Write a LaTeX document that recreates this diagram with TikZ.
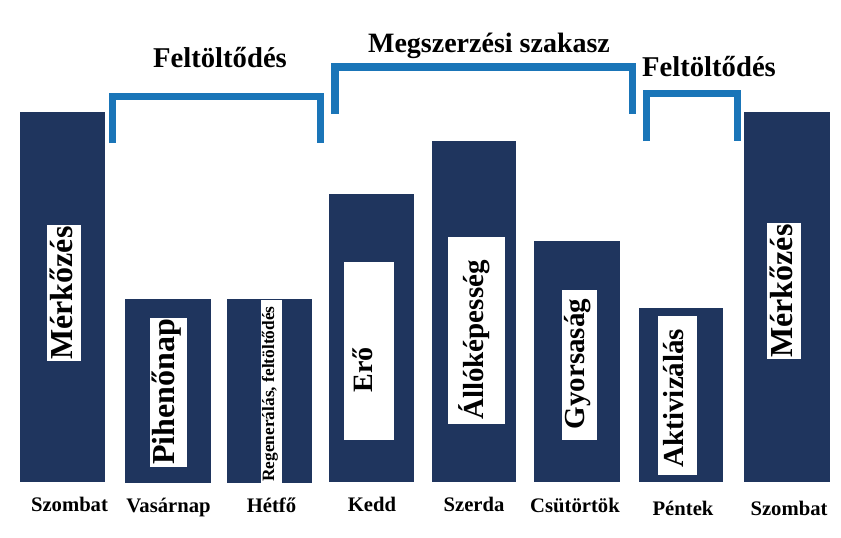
\documentclass[tikz,border=0pt]{standalone}
\usepackage{fontspec}
\setmainfont{Liberation Serif}
\definecolor{navy}{HTML}{1F355E}
\definecolor{brblue}{HTML}{1A75B8}
\begin{document}
\begin{tikzpicture}[x=0.75pt,y=-0.75pt,
  bar/.style={fill=navy},
  wbox/.style={fill=white},
  brk/.style={draw=brblue,line width=5.6pt,line join=miter,line cap=butt},
  title/.style={inner sep=0pt,anchor=base,font=\bfseries\fontsize{21.5pt}{24pt}\selectfont},
  day/.style={inner sep=0pt,anchor=base,font=\bfseries\fontsize{15.5pt}{17pt}\selectfont},
  vlbl/.style={inner sep=0pt,anchor=base,rotate=90,font=\bfseries\fontsize{#1}{#1}\selectfont},
  vlbl/.default=24pt]
\fill[white] (0,0) rectangle (841,537);
\useasboundingbox (0,0) rectangle (841,537);
% bars
\fill[bar] (20,112) rectangle (105,482);
\fill[bar] (125,299) rectangle (211,483);
\fill[bar] (227,299) rectangle (312,483);
\fill[bar] (329,194) rectangle (414,482);
\fill[bar] (432,141) rectangle (516,482);
\fill[bar] (534,241) rectangle (620,482);
\fill[bar] (639,308) rectangle (723,482);
\fill[bar] (744,112) rectangle (830,482);
% white label boxes
\fill[wbox] (47,225) rectangle (81,361);
\fill[wbox] (150,318) rectangle (187,467);
\fill[wbox] (261,300) rectangle (282,483);
\fill[wbox] (344,262) rectangle (394,440);
\fill[wbox] (448,237) rectangle (505,424);
\fill[wbox] (562,290) rectangle (597,440);
\fill[wbox] (658,316) rectangle (697,475);
\fill[wbox] (767,223) rectangle (801,359);
% vertical labels
\node[vlbl] (m1) at (72,293) {Mérkőzés};
\node[vlbl] (pih) at (174,392) {Pihenőnap};
\node[vlbl=13pt] (reg) at (274,394) {Regenerálás, feltöltődés};
\node[vlbl=21pt] (ero) at (372,370) {Erő};
\node[vlbl=21.75pt] (allo) at (483,340) {Állóképesség};
\node[vlbl=21.75pt] (gyors) at (584,364) {Gyorsaság};
\node[vlbl=21.75pt] (akt) at (683,398) {Aktivizálás};
\node[vlbl] (m2) at (792,291) {Mérkőzés};
% brackets
\draw[brk] (112.3,143) -- (112.3,96.5) -- (320.5,96.5) -- (320.5,143);
\draw[brk] (335,114) -- (335,67) -- (632.5,67) -- (632.5,114);
\draw[brk] (646.7,141) -- (646.7,93.3) -- (737.5,93.3) -- (737.5,141);
% titles
\node[title] (t1) at (220,67) {Feltöltődés};
\node[title,font=\bfseries\fontsize{21pt}{24pt}\selectfont] (t2) at (489,52) {Megszerzési szakasz};
\node[title] (t3) at (709,76) {Feltöltődés};
% days
\node[day] (d1) at (69.5,511) {Szombat};
\node[day] (d2) at (168.5,512) {Vasárnap};
\node[day] (d3) at (271.5,512) {Hétfő};
\node[day] (d4) at (372,511) {Kedd};
\node[day] (d5) at (474,511) {Szerda};
\node[day] (d6) at (575,512) {Csütörtök};
\node[day] (d7) at (683,515) {Péntek};
\node[day] (d8) at (789,515) {Szombat};
\end{tikzpicture}
\end{document}
